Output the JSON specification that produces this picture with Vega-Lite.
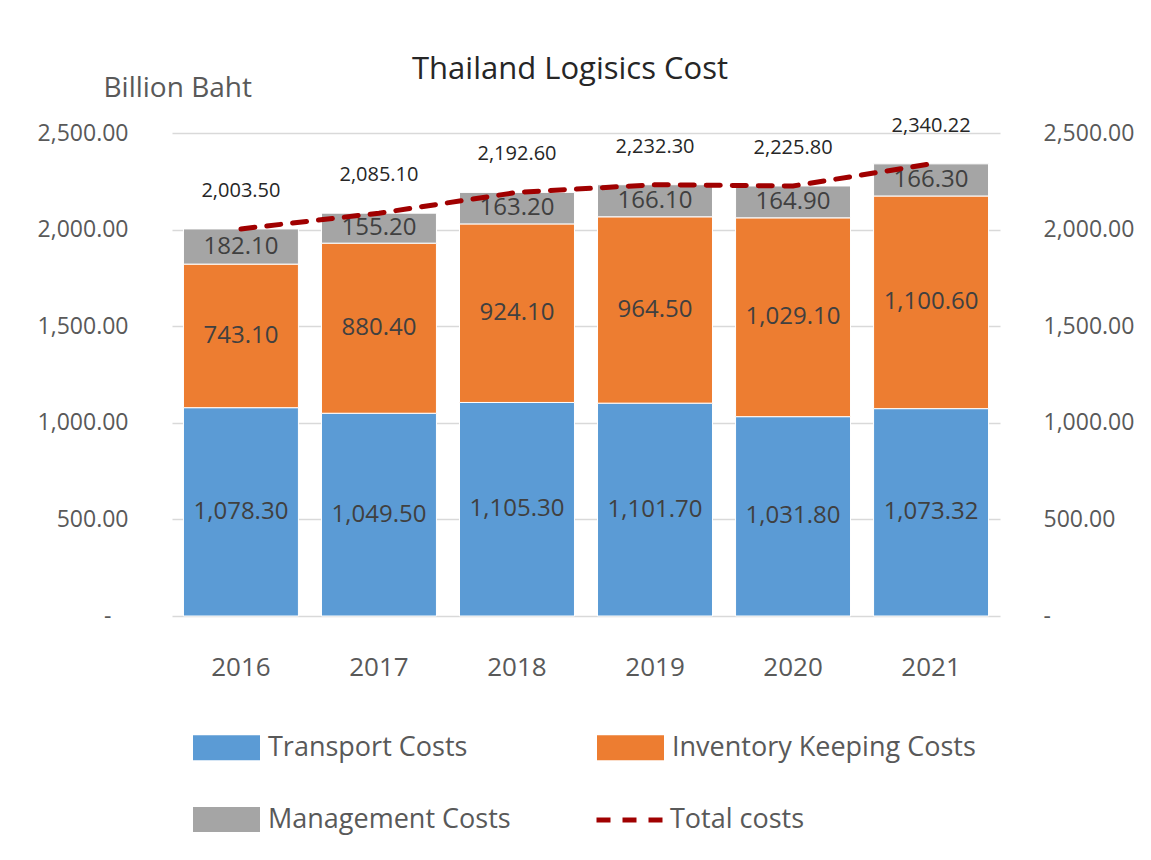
{
  "$schema": "https://vega.github.io/schema/vega-lite/v6.json",
  "width": 828,
  "height": 483,
  "autosize": "none",
  "padding": {"left": 172, "top": 133, "right": 151, "bottom": 244},
  "background": "white",
  "config": {"font": "Open Sans", "view": {"stroke": null}},
  "title": {"text": "Thailand Logisics Cost", "fontSize": 31, "font": "Open Sans", "fontWeight": "normal", "color": "#262626", "anchor": "middle", "frame": "group", "dx": -16, "dy": 12, "offset": 0},
  "datasets": {
    "parts": [
      {"year": "2016", "type": "Transport Costs", "value": 1078.3},
      {"year": "2016", "type": "Inventory Keeping Costs", "value": 743.1},
      {"year": "2016", "type": "Management Costs", "value": 182.1},
      {"year": "2017", "type": "Transport Costs", "value": 1049.5},
      {"year": "2017", "type": "Inventory Keeping Costs", "value": 880.4},
      {"year": "2017", "type": "Management Costs", "value": 155.2},
      {"year": "2018", "type": "Transport Costs", "value": 1105.3},
      {"year": "2018", "type": "Inventory Keeping Costs", "value": 924.1},
      {"year": "2018", "type": "Management Costs", "value": 163.2},
      {"year": "2019", "type": "Transport Costs", "value": 1101.7},
      {"year": "2019", "type": "Inventory Keeping Costs", "value": 964.5},
      {"year": "2019", "type": "Management Costs", "value": 166.1},
      {"year": "2020", "type": "Transport Costs", "value": 1031.8},
      {"year": "2020", "type": "Inventory Keeping Costs", "value": 1029.1},
      {"year": "2020", "type": "Management Costs", "value": 164.9},
      {"year": "2021", "type": "Transport Costs", "value": 1073.32},
      {"year": "2021", "type": "Inventory Keeping Costs", "value": 1100.6},
      {"year": "2021", "type": "Management Costs", "value": 166.3}
    ],
    "totals": [
      {"year": "2016", "total": 2003.5},
      {"year": "2017", "total": 2085.1},
      {"year": "2018", "total": 2192.6},
      {"year": "2019", "total": 2232.3},
      {"year": "2020", "total": 2225.8},
      {"year": "2021", "total": 2340.22}
    ]
  },
  "resolve": {"scale": {"y": "shared"}, "axis": {"y": "independent"}},
  "layer": [
    {
      "data": {"name": "parts"},
      "transform": [
        {"calculate": "indexof(['Transport Costs','Inventory Keeping Costs','Management Costs'], datum.type)", "as": "k"},
        {"stack": "value", "groupby": ["year"], "sort": [{"field": "k", "order": "ascending"}], "as": ["v0", "v1"]}
      ],
      "mark": {"type": "bar", "stroke": "white", "strokeWidth": 1},
      "encoding": {
        "x": {"field": "year", "type": "nominal", "scale": {"paddingInner": 0.167, "paddingOuter": 0.083},
          "axis": {"title": null, "labelAngle": 0, "labelFontSize": 26, "labelColor": "#595959", "labelPadding": 38, "ticks": false, "domain": false, "grid": false}},
        "y": {"field": "v1", "type": "quantitative", "scale": {"domain": [0, 2500], "nice": false},
          "axis": {"orient": "left", "values": [0, 500, 1000, 1500, 2000, 2500],
            "labelExpr": "datum.value === 0 ? '-' : format(datum.value, ',.2f')",
            "labelFontSize": 23, "labelColor": "#595959",
            "labelPadding": {"condition": {"test": "datum.value === 0", "value": 61}, "value": 44},
            "ticks": false, "domain": false,
            "grid": true, "gridColor": "#D9D9D9", "gridWidth": 1.5,
            "title": "Billion Baht", "titleAngle": 0, "titleAlign": "left", "titleBaseline": "middle", "titleX": -69, "titleY": -45,
            "titleFontSize": 28, "titleFontWeight": "normal", "titleColor": "#595959", "titleFont": "Open Sans"}},
        "y2": {"field": "v0"},
        "color": {"field": "type", "type": "nominal",
          "scale": {"domain": ["Transport Costs", "Inventory Keeping Costs", "Management Costs"], "range": ["#5B9BD5", "#ED7D31", "#A5A5A5"]},
          "legend": {"orient": "none", "legendX": 21, "legendY": 581, "columns": 2, "direction": "horizontal", "title": null,
            "symbolSize": 4489, "symbolType": "M-1,-0.373H1V0.373H-1Z", "symbolStrokeWidth": 0,
            "labelFontSize": 27, "labelColor": "#595959", "labelFont": "Open Sans", "labelOffset": 8, "labelLimit": 500,
            "columnPadding": 86, "rowPadding": 25, "padding": 0}
        }
      }
    },
    {
      "data": {"name": "parts"},
      "transform": [
        {"calculate": "indexof(['Transport Costs','Inventory Keeping Costs','Management Costs'], datum.type)", "as": "k"},
        {"stack": "value", "groupby": ["year"], "sort": [{"field": "k", "order": "ascending"}], "as": ["v0", "v1"]},
        {"calculate": "(datum.v0 + datum.v1) / 2", "as": "mid"}
      ],
      "mark": {"type": "text", "fontSize": 24, "color": "#404040", "font": "Open Sans"},
      "encoding": {
        "x": {"field": "year", "type": "nominal"},
        "y": {"field": "mid", "type": "quantitative", "axis": null},
        "text": {"field": "value", "type": "quantitative", "format": ",.2f"}
      }
    },
    {
      "data": {"name": "totals"},
      "mark": {"type": "line", "strokeWidth": 5, "strokeCap": "round", "color": "#A00000"},
      "encoding": {
        "x": {"field": "year", "type": "nominal"},
        "y": {"field": "total", "type": "quantitative", "scale": {"domain": [0, 2500], "nice": false},
          "axis": {"orient": "right", "values": [0, 500, 1000, 1500, 2000, 2500],
            "labelExpr": "datum.value === 0 ? '-' : format(datum.value, ',.2f')",
            "labelFontSize": 23, "labelColor": "#595959", "labelPadding": 43, "ticks": false, "domain": false, "grid": false, "title": null}},
        "strokeDash": {"datum": "Total costs", "type": "nominal",
          "scale": {"domain": ["Total costs"], "range": [[14, 12]]},
          "legend": {"orient": "none", "legendX": 422, "legendY": 651, "title": null,
            "symbolType": "stroke", "symbolSize": 4489, "symbolStrokeWidth": 5, "symbolStrokeColor": "#A00000",
            "labelFontSize": 27, "labelColor": "#595959", "labelFont": "Open Sans", "labelOffset": 4, "labelLimit": 500, "padding": 0}}
      }
    },
    {
      "data": {"name": "totals"},
      "mark": {"type": "text", "fontSize": 20, "color": "#262626", "dy": -38, "font": "Open Sans"},
      "encoding": {
        "x": {"field": "year", "type": "nominal"},
        "y": {"field": "total", "type": "quantitative", "axis": null},
        "text": {"field": "total", "type": "quantitative", "format": ",.2f"}
      }
    }
  ]
}
